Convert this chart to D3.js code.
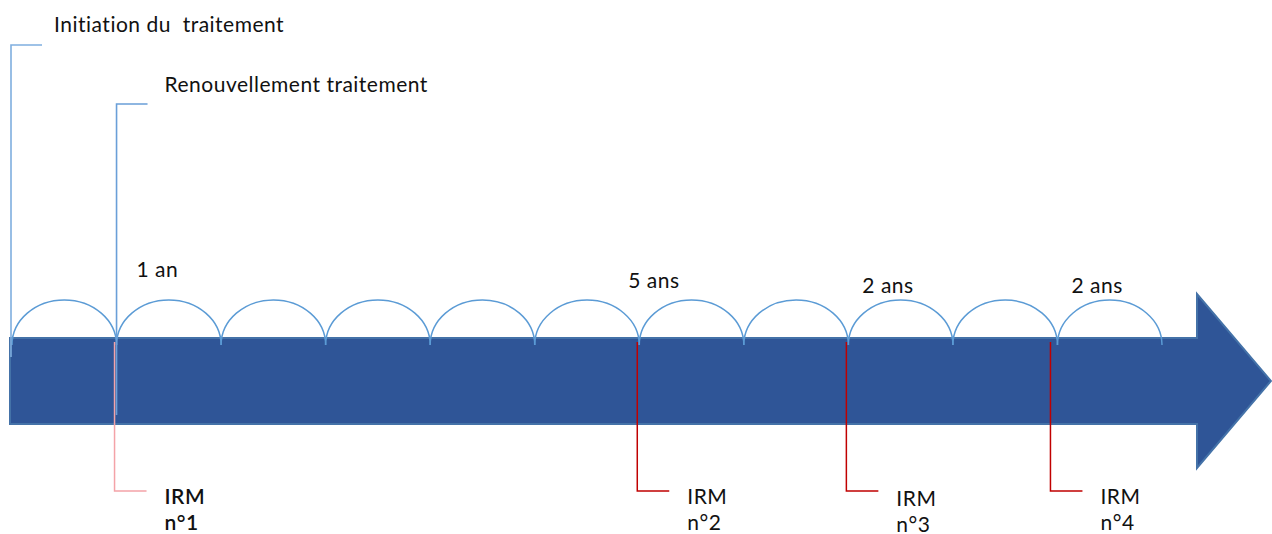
<!DOCTYPE html>
<html>
<head>
<meta charset="utf-8">
<script src="https://cdn.jsdelivr.net/npm/d3@7"></script>
<style>
  html, body { margin: 0; padding: 0; background: #fff; }
  svg text { font-family: Lato, "Open Sans", sans-serif; fill: #111; white-space: pre; letter-spacing: 0.5px; }
</style>
</head>
<body>
<div id="timeline"></div>
<script>
// timeline in years, one arc per year
const arcYears = [0, 1, 2, 3, 4, 5, 6, 7, 8, 9, 10];
const totalYears = 11;

// intervals written above the arcs
const intervalLabels = ["1 an", "5 ans", "2 ans", "2 ans"];
const intervalYears = [1, 6, 8, 10];

// treatment callouts (above the arrow)
const treatLabels = ["Initiation du  traitement", "Renouvellement traitement"];
const treatYears = [0, 1];

// MRI callouts (below the arrow)
const irmLabels = ["IRM", "IRM", "IRM", "IRM"];
const irmNumbers = ["n°1", "n°2", "n°3", "n°4"];
const irmYears = [1, 6, 8, 10];

const svgWidth = 1272;
const svgHeight = 534;

// layout
const fontSize = 21;
const barTop = 338, barBottom = 424;
const arcBase = 345, arcHeight = 45;
const intervalDx = [20, -11, 14, 14];
const intervalY = [277, 288, 293, 293];
const treatTop = [45, 104];
const treatBottom = [357, 415];
const treatTextY = [32, 92];
const treatColors = ["#7FAEDF", "#6A9FD8"];
const irmColors = ["#F4A3A8", "#C00000", "#C00000", "#C00000"];
const irmLineY = 491;

const svg = d3.select("#timeline")
    .append("svg")
    .attr("width", svgWidth)
    .attr("height", svgHeight);

const x = d3.scaleLinear()
    .domain([0, totalYears])
    .range([12, 1162]);

// ---------------- arrow ----------------
const x0 = x(0) - 2;
const headStart = x(totalYears) + 35;
const tip = svgWidth - 1;
const midY = (barTop + barBottom) / 2;
const arrowPts = [
    [x0, barTop], [headStart, barTop], [headStart, 294],
    [tip, midY], [headStart, 468], [headStart, barBottom], [x0, barBottom]
];
svg.append("path")
    .attr("d", d3.line()(arrowPts) + "Z")
    .attr("fill", "#2F5597")
    .attr("stroke", "#4472A8")
    .attr("stroke-width", 2);

// ---------------- arcs ----------------
svg.selectAll(".year-arc")
    .data(arcYears)
    .enter()
    .append("path")
    .attr("class", "year-arc")
    .attr("d", d => {
        const a = x(d), b = x(d + 1);
        return `M${a},${arcBase} A${(b - a) / 2},${arcHeight} 0 0 1 ${b},${arcBase}`;
    })
    .attr("fill", "none")
    .attr("stroke", "#5B9BD5")
    .attr("stroke-width", 1.5);

svg.selectAll(".interval-label")
    .data(intervalLabels)
    .enter()
    .append("text")
    .attr("class", "interval-label")
    .attr("x", (d, i) => x(intervalYears[i]) + intervalDx[i])
    .attr("y", (d, i) => intervalY[i])
    .attr("font-size", fontSize)
    .text(d => d);

// ---------------- treatment callouts ----------------
treatLabels.forEach((label, i) => {
    const lx = x(treatYears[i]) - (i === 0 ? 1 : 0);
    svg.append("path")
        .attr("d", `M${lx + 31},${treatTop[i]} H${lx} V${treatBottom[i]}`)
        .attr("fill", "none")
        .attr("stroke", treatColors[i])
        .attr("stroke-width", 1.6);
    svg.append("text")
        .attr("x", lx + 43 + i * 5)
        .attr("y", treatTextY[i])
        .attr("font-size", fontSize)
        .text(label);
});

// ---------------- MRI callouts ----------------
irmLabels.forEach((label, i) => {
    const lx = x(irmYears[i]) - (i === 3 ? 7 : 2);
    svg.append("path")
        .attr("d", `M${lx},${barTop + 4} V${irmLineY} H${lx + 32}`)
        .attr("fill", "none")
        .attr("stroke", irmColors[i])
        .attr("stroke-width", 1.5);
    const t = svg.append("text")
        .attr("x", lx + 50)
        .attr("y", 504 + (i === 2 ? 2 : 0))
        .attr("font-size", fontSize)
        .attr("font-weight", i === 0 ? 600 : 400);
    t.append("tspan").attr("x", lx + 50).text(label);
    t.append("tspan").attr("x", lx + 50).attr("dy", 26).text(irmNumbers[i]);
});
</script>
</body>
</html>
